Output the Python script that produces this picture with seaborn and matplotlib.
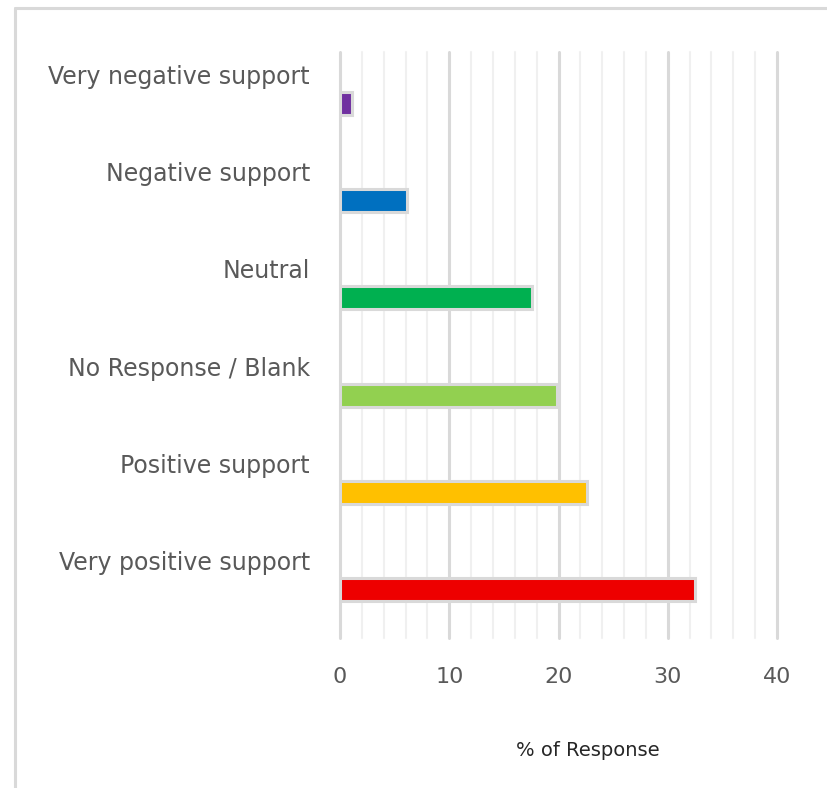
import matplotlib
matplotlib.use("Agg")
import matplotlib.pyplot as plt
from matplotlib.lines import Line2D
from matplotlib.ticker import MultipleLocator
import seaborn as sns
import pandas as pd

# Survey answers, top to bottom
categories = [
    "Very negative support",
    "Negative support",
    "Neutral",
    "No Response / Blank",
    "Positive support",
    "Very positive support",
]
percent = [1.1, 6.1, 17.6, 19.9, 22.6, 32.5]
bar_colors = ["#7030A0", "#0070C0", "#00B050", "#92D050", "#FFC000", "#EE0000"]
x_ticks = [0, 10, 20, 30, 40]

df = pd.DataFrame({"category": categories, "percent": percent})

sns.set_theme(style="white")
plt.rcParams["font.family"] = ["DejaVu Sans"]

W, H = 827, 788
fig = plt.figure(figsize=(W / 100, H / 100), dpi=100)
ax = fig.add_axes([340 / W, 1 - 638 / H, (777 - 340) / W, (638 - 52) / H])

sns.barplot(
    data=df, x="percent", y="category", hue="category",
    palette=bar_colors, order=categories, hue_order=categories,
    orient="h", dodge=False, width=0.237, legend=False, saturation=1,
    edgecolor="#D9D9D9", linewidth=2.2, ax=ax, zorder=3,
)

ax.set_xlim(0, 40)
ax.set_ylim(5.5, -0.53)
ax.xaxis.set_minor_locator(MultipleLocator(2))
ax.set_xticks(x_ticks)
ax.grid(axis="x", which="major", color="#D9D9D9", linewidth=2.2, zorder=0)
ax.grid(axis="x", which="minor", color="#F0F0F0", linewidth=1.5, zorder=0)
ax.grid(axis="y", visible=False)
for gl in ax.get_xgridlines() + ax.xaxis.get_minorticklines():
    gl.set_clip_on(False)
for t in ax.xaxis.get_major_ticks() + ax.xaxis.get_minor_ticks():
    t.gridline.set_clip_on(False)
ax.set_axisbelow(True)
for s in ax.spines.values():
    s.set_visible(False)

ax.tick_params(axis="x", which="both", length=0, pad=21, labelsize=16, labelcolor="#595959")
ax.set_yticks([])
ax.set_xlabel("")
ax.set_ylabel("")

# Category names sit above their bars, right-aligned left of the plot area
ytrans = ax.get_yaxis_transform()
for i, name in enumerate(categories):
    ax.text(-30 / 437, i - 0.20, name, transform=ytrans, ha="right", va="baseline",
            fontsize=17, color="#595959", clip_on=False)

fig.text(588 / W, 1 - 750 / H, "% of Response", ha="center", va="center",
         fontsize=14, color="#262626")

# Light frame around the chart area
fig.add_artist(Line2D([15 / W, 15 / W], [0, 1 - 8 / H], transform=fig.transFigure,
                      color="#D9D9D9", linewidth=2.2))
fig.add_artist(Line2D([15 / W, 1], [1 - 8 / H, 1 - 8 / H], transform=fig.transFigure,
                      color="#D9D9D9", linewidth=2.2))

fig.savefig("out.png", dpi=100, facecolor="white")
